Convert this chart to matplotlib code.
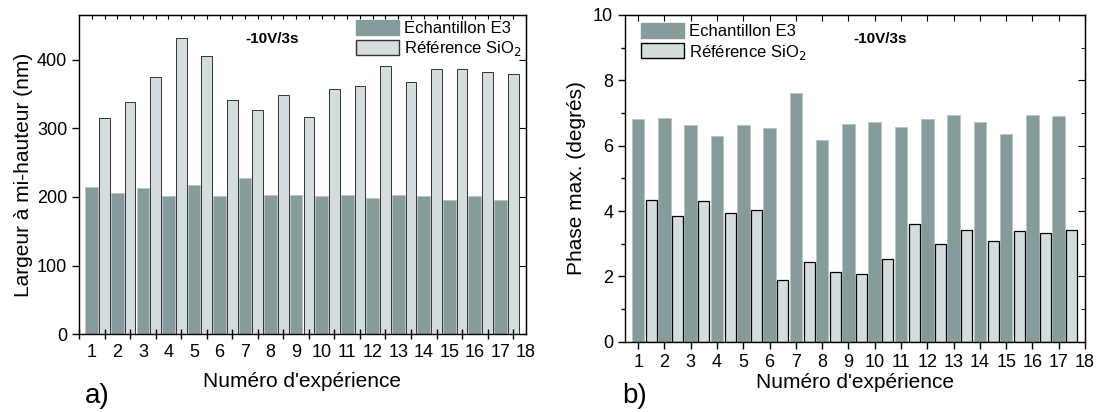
import numpy as np
import matplotlib.pyplot as plt
from matplotlib.patches import Patch

plt.rcParams['font.family'] = ['Liberation Sans', 'DejaVu Sans']

# experiment numbers
exp = np.arange(1, 18)

# a) width at half height (nm)
largeur_e3 = [215, 206, 213, 201, 218, 201, 228, 203, 203, 201, 203, 199, 203, 201, 195, 201, 196]
largeur_ref = [315, 338, 374, 431, 405, 341, 327, 348, 317, 357, 362, 391, 367, 386, 386, 382, 379]

# b) max phase (degrees)
phase_e3 = [6.82, 6.86, 6.63, 6.31, 6.63, 6.54, 7.60, 6.16, 6.67, 6.71, 6.58, 6.82, 6.95, 6.71, 6.35, 6.95, 6.90]
phase_ref = [4.35, 3.84, 4.30, 3.93, 4.02, 1.89, 2.45, 2.12, 2.07, 2.54, 3.60, 3.00, 3.42, 3.09, 3.38, 3.33, 3.42]

dark = '#869b9b'
light = '#d3dddd'
lab1 = 'Echantillon E3'
lab2 = 'Référence SiO$_2$'

fig = plt.figure(figsize=(11.01, 4.12), dpi=100)
ax1 = fig.add_axes([0.0718, 0.1886, 0.4059, 0.775])
ax2 = fig.add_axes([0.5677, 0.1706, 0.4178, 0.793])

# ---- panel a
ax1.bar(exp, largeur_e3, width=0.5, color=dark, edgecolor='#b8c4c4', linewidth=0.6)
ax1.bar(exp + 0.5, largeur_ref, width=0.42, color=light, edgecolor='#333333', linewidth=0.7)
ax1.set_xlim(0.5, 18)
ax1.set_ylim(0, 465)
ax1.set_xticks(np.arange(1, 19))
ax1.set_xticks(np.arange(0.5, 18, 1), minor=True)
ax1.tick_params(axis='x', which='major', length=0, labelsize=13, pad=7)
ax1.tick_params(axis='x', which='minor', length=7, direction='inout', width=1)
ax1.set_yticks([0, 100, 200, 300, 400])
ax1.tick_params(axis='y', which='major', length=5, direction='out', width=1, labelsize=13)
top1 = ax1.secondary_xaxis('top')
top1.set_xticks(np.arange(1, 18.5, 0.5))
top1.tick_params(length=3, direction='in', labeltop=False)
right1 = ax1.secondary_yaxis('right')
right1.set_yticks([0, 100, 200, 300, 400])
right1.tick_params(length=5, direction='in', labelright=False)
ax1.set_xlabel("Numéro d'expérience", fontsize=15, labelpad=8)
ax1.set_ylabel('Largeur à mi-hauteur (nm)', fontsize=15, labelpad=3)
ax1.text(0.432, 0.925, '-10V/3s', transform=ax1.transAxes, fontsize=11,
         fontweight='bold', ha='center', va='center')
ax1.legend(handles=[Patch(facecolor=dark, edgecolor=dark, label=lab1),
                    Patch(facecolor=light, edgecolor='#333333', label=lab2)],
           loc='upper left', bbox_to_anchor=(0.62, 0.985), frameon=False,
           fontsize=12, handlelength=2.6, handleheight=1.0, borderpad=0,
           borderaxespad=0, handletextpad=0.3, labelspacing=0.2)
fig.text(0.077, 0.04, 'a)', fontsize=20, ha='left', va='center')

# ---- panel b
ax2.bar(exp, phase_e3, width=0.48, color=dark, edgecolor='#b8c4c4', linewidth=0.6)
ax2.bar(exp + 0.5, phase_ref, width=0.42, color=light, edgecolor='black', linewidth=0.9)
ax2.set_xlim(0.5, 18)
ax2.set_ylim(0, 10)
ax2.set_xticks(np.arange(1, 19))
ax2.tick_params(axis='x', which='major', length=5, direction='out', width=1, labelsize=13)
ax2.set_yticks(np.arange(0, 11, 2))
ax2.set_yticks(np.arange(1, 10, 2), minor=True)
ax2.tick_params(axis='y', which='major', length=5, direction='out', width=1, labelsize=13)
ax2.tick_params(axis='y', which='minor', length=3, direction='out', width=1)
top2 = ax2.secondary_xaxis('top')
top2.set_xticks(np.arange(1, 19))
top2.tick_params(length=4, direction='in', labeltop=False)
right2 = ax2.secondary_yaxis('right')
right2.set_yticks(np.arange(0, 11, 2))
right2.set_yticks(np.arange(1, 10, 2), minor=True)
right2.tick_params(which='major', length=5, direction='in', labelright=False)
right2.tick_params(which='minor', length=3, direction='in')
ax2.set_xlabel("Numéro d'expérience", fontsize=15, labelpad=2)
ax2.set_ylabel('Phase max. (degrés)', fontsize=15, labelpad=5)
ax2.text(0.554, 0.927, '-10V/3s', transform=ax2.transAxes, fontsize=11,
         fontweight='bold', ha='center', va='center')
ax2.legend(handles=[Patch(facecolor=dark, edgecolor=dark, label=lab1),
                    Patch(facecolor=light, edgecolor='black', label=lab2)],
           loc='upper left', bbox_to_anchor=(0.035, 0.975), frameon=False,
           fontsize=12, handlelength=2.6, handleheight=1.0, borderpad=0,
           borderaxespad=0, handletextpad=0.3, labelspacing=0.2)
fig.text(0.565, 0.04, 'b)', fontsize=20, ha='left', va='center')

for ax in (ax1, ax2):
    for s in ax.spines.values():
        s.set_linewidth(1.0)

fig.savefig('out.png', dpi=100)
